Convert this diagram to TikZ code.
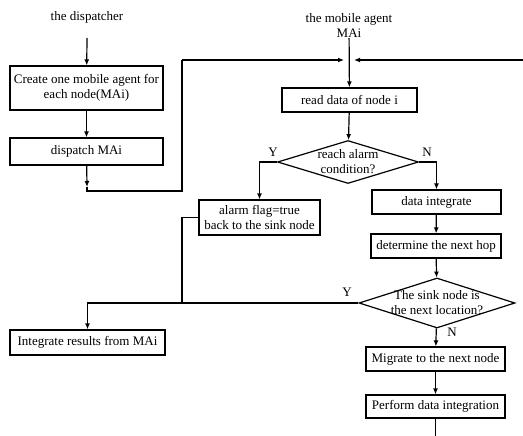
\documentclass[tikz,border=0pt]{standalone}
\usepackage{fontspec}
\setmainfont{Liberation Serif}
\usetikzlibrary{shapes.geometric,arrows.meta}
\begin{document}
\begin{tikzpicture}[x=1pt,y=-1pt,font=\fontsize{13}{15}\selectfont,
    box/.style={draw, line width=1.2pt, inner sep=0pt, align=center},
    decision/.style={draw, diamond, line width=1.2pt, inner sep=0pt},
    line/.style={line width=1.2pt},
    arr/.style={line width=1.2pt, -{Latex[length=6pt,width=5pt]}}]
        \useasboundingbox (0,0) rectangle (523,436);

        % Labels at the top
        \node (dispatcher) at (87,17) {the dispatcher};
        \node[align=center, inner sep=1pt] (agent) at (349,25) {the mobile agent\\MAi};

        % Draw the boxes of the dispatcher
        \node[box, minimum width=153pt, minimum height=44pt] (create) at (86.5,88) {Create one mobile agent for\\each node(MAi)};
        \node[box, minimum width=153pt, minimum height=27pt] (dispatch) at (86.5,151.5) {dispatch MAi};
        \node[box, minimum width=155pt, minimum height=25pt] (integrate) at (87.5,342.5) {Integrate results from MAi};

        % Draw the boxes of the mobile agent
        \node[box, minimum width=135pt, minimum height=24pt] (read) at (349.5,100) {read data of node i};
        \node[decision, minimum width=141pt, minimum height=43pt] (alarmq) at (348,162) {};
        \node[align=center, inner sep=0pt] (alarmtext) at (alarmq) {reach alarm\\condition?};
        \node[box, minimum width=121pt, minimum height=35pt] (alarm) at (259.5,217.5) {alarm flag=true\\back to the sink node};
        \node[box, minimum width=129pt, minimum height=24pt] (dataint) at (436.5,202) {data integrate};
        \node[box, minimum width=130pt, minimum height=24pt] (nexthop) at (436,246) {determine the next hop};
        \node[decision, minimum width=156pt, minimum height=50pt] (sinkq) at (437,303) {};
        \node[align=center, inner sep=0pt] (sinktext) at (sinkq) {The sink node is\\the next location?};
        \node[box, minimum width=139pt, minimum height=24pt] (migrate) at (435.5,359) {Migrate to the next node};
        \node[box, minimum width=139pt, minimum height=23pt] (perform) at (435.5,406.5) {Perform data integration};

        % Y and N labels
        \node (y1) at (273,152) {Y};
        \node (n1) at (427,152) {N};
        \node (y2) at (347,292) {Y};
        \node (n2) at (452,332) {N};

        % Free ends of the connectors
        \coordinate (d0) at (87,38);
        \coordinate (d1) at (87,187);
        \coordinate (d2) at (87,191);
        \coordinate (c1) at (182,60);
        \coordinate (ltip) at (344,60);
        \coordinate (rin) at (523,60);
        \coordinate (rtip) at (354,60);
        \coordinate (j1) at (182,303);
        \coordinate (pend) at (435.5,436);

        % Draw the arrows of the dispatcher
        \draw[arr] (d0) -- (create);
        \draw[arr] (create) -- (dispatch);
        \draw[arr] (dispatch) -- (d1);
        \draw[line] (d1) -- (d2) -| (c1);
        \draw[arr] (c1) -- (ltip);
        \draw[arr] (rin) -- (rtip);

        % Draw the arrows of the mobile agent
        \draw[arr] (agent) -- (read);
        \draw[arr] (read) -- (alarmq);
        \draw[arr] (alarmq.west) -| (alarm.north);
        \draw[arr] (alarmq.east) -| (dataint.north);
        \draw[arr] (dataint) -- (nexthop);
        \draw[arr] (nexthop) -- (sinkq);
        \draw[arr] (sinkq.west) -| (integrate.north);
        \draw[line] (alarm.west) -| (j1);
        \draw[arr] (sinkq) -- (migrate);
        \draw[arr] (migrate) -- (perform);
        \draw[line] (perform) -- (pend);
    \end{tikzpicture}
\end{document}
